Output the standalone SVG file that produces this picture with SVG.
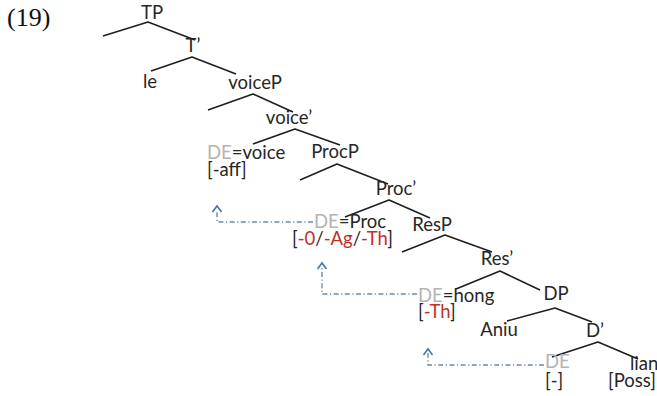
<svg xmlns="http://www.w3.org/2000/svg" width="657" height="396" viewBox="0 0 657 396">
  <style>
    .lbl { font-family: Lato, "Liberation Sans", sans-serif; font-size: 18.5px; fill: #262626; }
    .mid { text-anchor: middle; }
    .de { fill: #b4b4b4; }
    .neg { fill: #c0302b; }
    .branch { fill: none; stroke: #1e1e1e; stroke-width: 1.6; stroke-linejoin: round; }
    .move { fill: none; stroke: #7289a3; stroke-width: 1.4; stroke-dasharray: 5 2.5 1.2 2.5; }
    .num { font-family: "Liberation Serif", serif; font-size: 26px; fill: #111; }
  </style>
  <defs>
    <marker id="chev" markerUnits="userSpaceOnUse" markerWidth="14" markerHeight="14" viewBox="-10 -6 14 12" refX="-4" refY="0" orient="auto">
      <path d="M-6,-4.5 L0,0 L-6,4.5" fill="none" stroke="#4f79a8" stroke-width="1.7"/>
    </marker>
  </defs>

  <rect width="657" height="396" fill="#ffffff"/>

  <text class="num" x="7" y="26">(19)</text>

  <!-- branches -->
  <g id="branches">
    <polyline class="branch" points="103,36 148,22 195,40"/>
    <polyline class="branch" points="151,71 192,57 236,74"/>
    <polyline class="branch" points="208,110 253,94 293,112"/>
    <polyline class="branch" points="253,144 295,129 340,145"/>
    <polyline class="branch" points="300,180 337,164 388,184"/>
    <polyline class="branch" points="345,217 389,200 430,218"/>
    <polyline class="branch" points="402,252 445,235 492,252"/>
    <polyline class="branch" points="456,289 500,271 540,290"/>
    <polyline class="branch" points="507,321 555,308 592,322"/>
    <polyline class="branch" points="552,357 598,342 638,359"/>
  </g>

  <!-- movement paths -->
  <g id="movement">
    <path class="move" d="M313,222 H217 V210" marker-end="url(#chev)"/>
    <path class="move" d="M417,294 H322 V267" marker-end="url(#chev)"/>
    <path class="move" d="M544,365 H428 V353" marker-end="url(#chev)"/>
  </g>

  <g id="TP"><text class="lbl mid" x="152" y="19">TP</text></g>
  <g id="Tbar"><text class="lbl mid" x="193" y="52">T’</text></g>
  <g id="le"><text class="lbl mid" x="150" y="88">le</text></g>
  <g id="voiceP"><text class="lbl mid" x="255" y="89">voiceP</text></g>
  <g id="voicebar"><text class="lbl mid" x="289" y="124">voice’</text></g>
  <g id="DE-voice">
    <text class="lbl" x="207" y="159"><tspan class="de">DE</tspan>=voice</text>
    <text class="lbl" x="207" y="176">[-aff]</text>
  </g>
  <g id="ProcP"><text class="lbl mid" x="335" y="158">ProcP</text></g>
  <g id="Procbar"><text class="lbl mid" x="396" y="195">Proc’</text></g>
  <g id="DE-Proc">
    <text class="lbl" x="314" y="228"><tspan class="de">DE</tspan>=Proc</text>
    <text class="lbl" x="292" y="245">[<tspan class="neg">-0</tspan>/<tspan class="neg">-Ag</tspan>/<tspan class="neg">-Th</tspan>]</text>
  </g>
  <g id="ResP"><text class="lbl mid" x="432" y="231">ResP</text></g>
  <g id="Resbar"><text class="lbl mid" x="497" y="265">Res’</text></g>
  <g id="DE-hong">
    <text class="lbl" x="418" y="302"><tspan class="de">DE</tspan>=hong</text>
    <text class="lbl" x="418" y="318">[<tspan class="neg">-Th</tspan>]</text>
  </g>
  <g id="DP"><text class="lbl mid" x="556" y="300">DP</text></g>
  <g id="Aniu"><text class="lbl mid" x="499" y="336">Aniu</text></g>
  <g id="Dbar"><text class="lbl mid" x="595" y="337">D’</text></g>
  <g id="DE-D">
    <text class="lbl" x="545" y="368"><tspan class="de">DE</tspan></text>
    <text class="lbl" x="545" y="387">[-]</text>
  </g>
  <g id="lian">
    <text class="lbl" x="630" y="370">lian</text>
    <text class="lbl" x="608" y="387">[Poss]</text>
  </g>
</svg>
